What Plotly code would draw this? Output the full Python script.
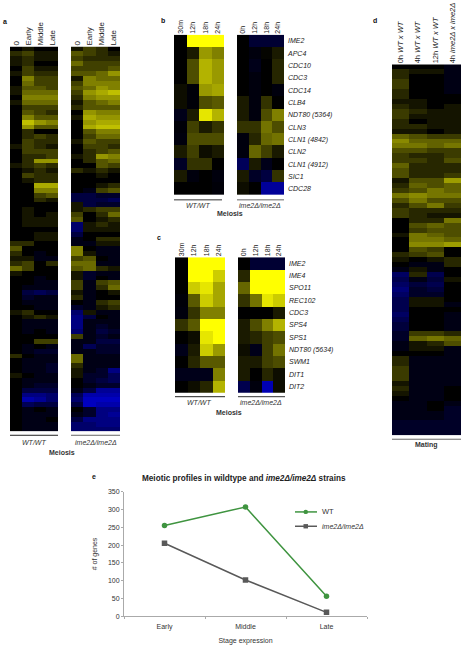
import plotly.graph_objects as go

W, H = 465, 645
FONT = "Liberation Sans"
DELTA = "ime2\u0394/ime2\u0394"

# ---------- data ----------
stage_cols = ["0", "Early", "Middle", "Late"]
wt_time_cols = ["30m", "12h", "18h", "24h"]
mut_time_cols = ["0h", "12h", "18h", "24h"]
mating_cols = ["0h <i>WT x WT</i>", "4h <i>WT x WT</i>", "12h <i>WT x WT</i>", "4h <i>ime2\u0394 x ime2\u0394</i>"]

a_wt = [
[0,1,0,0],[2,3,1,1],[1,2,1,1],[1,2,0,0],[0,3,1,1],[1,3,2,2],[0,6,3,3],[0,5,3,3],[1,4,4,3],[1,5,5,5],
[0,6,6,6],[1,5,5,5],[0,3,3,3],[0,4,3,2],[0,6,4,4],[0,9,7,6],[0,7,4,4],[0,2,0,0],[0,2,3,2],[0,3,2,2],
[1,3,2,1],[0,3,3,3],[0,2,2,3],[0,2,7,7],[1,2,3,2],[0,1,2,1],[0,3,2,2],[0,1,2,2],[0,0,8,8],[0,0,6,6],
[0,0,3,4],[0,0,2,1],[0,0,0,0],[0,1,0,0],[0,1,0,1],[0,1,1,1],[0,1,1,1],[0,0,0,0],
[0,0,1,1],[0,0,1,1],[2,2,0,0],[4,0,0,0],[2,0,-1,0],[1,1,-1,-1],[2,3,0,2],[5,3,0,0],[1,0,0,0],[0,0,-1,0],
[0,0,-1,-1],[0,-1,-1,-1],[0,-3,-4,-3],[0,-2,-1,-1],[0,-1,-1,-1],[0,0,-1,-1],[1,2,0,0],[0,1,2,1],[0,-1,-1,-1],[0,-1,-1,-1],
[0,-1,0,-1],[0,0,0,0],[0,0,3,3],[0,-1,0,-1],[0,-1,-2,-2],[2,0,-1,-1],[0,-1,-1,-1],[0,-1,-1,-2],[0,-1,-1,-2],[1,0,-1,-1],
[0,-1,-1,-1],[0,-1,-2,-2],[0,-3,-3,-3],[0,-6,-6,-5],[0,-8,-7,-5],[0,-4,-3,-3],[0,-1,0,-1],[0,-1,-1,-1],[0,-1,-1,0],[0,-1,-1,-1],[0,-1,-1,-1],
]
a_mut = [
[1,3,2,0],[4,3,2,1],[3,2,2,2],[5,3,3,3],[3,3,3,4],[4,4,5,7],[1,6,5,5],[3,6,6,6],[4,5,7,6],[3,7,8,9],
[2,6,7,7],[1,4,5,6],[2,4,4,4],[0,7,6,6],[1,8,7,7],[0,7,8,8],[0,8,9,9],[0,4,6,6],[0,3,5,5],[1,4,3,3],
[0,3,3,2],[0,2,3,4],[1,2,7,6],[0,2,4,5],[0,0,4,3],[2,1,2,1],[0,0,1,0],[0,0,0,0],[0,0,1,2],[0,-1,3,4],
[-3,-3,-2,-2],[-3,-3,-3,-4],[1,-3,-2,-2],[1,2,3,3],[3,0,2,5],[4,0,1,2],[-5,1,2,1],[-5,1,1,1],
[-3,0,0,0],[-1,0,2,2],[-1,-1,1,1],[6,0,-1,-1],[6,1,-1,-1],[3,4,0,-1],[5,5,-1,-1],[4,5,2,1],[1,-2,-1,-1],[1,-2,0,-1],
[3,-1,3,4],[3,-1,2,5],[1,-1,0,1],[2,-1,0,0],[0,-1,2,3],[-2,-1,1,2],[-5,1,-1,-1],[-6,-3,0,-1],[-6,-1,-1,-1],[-6,-1,-2,-1],
[-5,-1,-3,-2],[3,-1,-2,-1],[-1,-1,-3,-3],[-1,-4,-2,-2],[-1,-1,-2,-2],[5,-1,-1,-1],[5,-1,-1,-1],[2,-1,-1,-1],[1,-1,-2,-6],[1,-2,-2,-4],
[0,-2,-3,-4],[0,-1,-2,-2],[-1,-3,-7,-7],[-4,-8,-8,-8],[-5,-9,-9,-9],[-3,-9,-8,-8],[0,-2,-6,-6],[-1,-2,-6,-7],[-3,-6,-6,-6],[-5,-5,-6,-6],[-5,-5,-5,-5],
]
b_genes = ["IME2","APC4","CDC10","CDC3","CDC14","CLB4","NDT80 (5364)","CLN3","CLN1 (4842)","CLN2","CLN1 (4912)","SIC1","CDC28"]
b_wt = [
[0,10,10,10],[0,1,6,5],[0,3,7,6],[0,3,7,6],[0.5,-0.3,6,6.5],[0.5,-0.3,3,3.5],[-1,1,9,7],
[-0.3,2.5,1,2],[-0.5,3,3,3],[1,2.5,0.5,1],[-1.5,2,2,0],[1,-0.5,0,-0.5],[0,0,0,-0.3],
]
b_mut = [
[0,-2,-2,-2],[0,-0.5,0.2,1],[0,-1,0,1.5],[0,-0.5,0,1.5],[0,-0.5,0,-0.5],[1,-0.5,2,0],[1,-0.5,3,5],
[2,2,4.5,3],[-0.5,1.5,4,4.5],[-0.5,4,2.5,1],[-3.5,1,-1,0],[1,-1.5,-2.5,2],[0.5,0,-6,-6],
]
c_genes = ["IME2","IME4","SPO11","REC102","CDC3","SPS4","SPS1","NDT80 (5634)","SWM1","DIT1","DIT2"]
c_wt = [
[0,10,10,10],[0,10,10,8],[0,8,9,6.5],[-0.3,3.5,8,6.5],[-0.5,2,5,5],[2,3.5,10,10],[0,0.5,9,10],
[-1,1,8,6],[0,1.5,3.5,3.5],[-1,-1,-1,5],[0,0.5,1.5,7],
]
c_mut = [
[0,-2,-2,-2],[1.5,10,10,10],[4,10,10,10],[2,4.5,9,8],[0,0,0,1],[1,3,5,7],[1,1.5,2.5,3],
[0.5,-1,2.5,4.5],[1,1,2.5,3],[1,0,1.5,0.5],[-3,-0.5,-7,0.5],
]
d_mating = [
[0,0,0,-1],[2,1,1,-1],[2,0,0,-1],[3,0,0,-1],[3,0,0,-1],[2,0,0,-1],[2,0,0,0],[1,1,0,0],[2,1,0,1],[3,2,1,1],
[3,1,1,1],[2,0,1,1],[2,2,1,1],[1,1,0,1],[5,4,3,3],[7,5,5,5],[6,6,5,6],[4,4,3,3],[3,2,2,3],[3,3,2,4],
[5,2,2,2],[4,2,2,2],[4,2,2,3],[1,4,4,8],[2,5,4,5],[3,4,6,5],[6,7,6,6],[4,6,4,4],[2,4,6,3],[3,2,2,2],
[3,2,1,1],[0,2,2,6],[0,4,5,4],[0,3,4,4],
[1,6,5,4],[0,6,6,5],[0,7,7,8],[0,4,3,0],[2,3,4,0],[1,0,1,2],[0,-1,-1,2],[-1,1,-1,0],[-5,2,-4,0],[-4,-1,-3,1],
[-5,-3,-4,0],[-6,-2,-3,0],[-5,-2,-2,0],[-4,1,1,0],[-4,1,1,-1],[-4,0,0,0],[-5,0,0,-1],[-4,0,0,-1],[-3,0,0,-1],[-3,0,0,-1],
[-2,3,3,2],[-2,5,6,5],[-1,1,2,4],[-1,1,1,-1],[0,0,0,-1],[2,-1,-1,-1],[2,-1,-1,-1],[3,-1,-1,-1],[3,-1,-1,-1],[3,-1,-1,-1],
[1,-1,-1,-1],[2,-1,-1,0],[1,-1,-1,0],[0,-1,-1,0],[-1,-1,0,-1],[-1,-1,0,-2],[-1,-1,-1,-2],[-1,-1,-1,-2],[-2,-2,-2,-2],[-2,-2,-2,-2],[-2,-2,-2,-2],
]
stages = ["Early", "Middle", "Late"]
genes_wt = [255, 307, 56]
genes_mut = [205, 102, 11]

# ---------- helpers ----------
SCALE = [[0, "rgb(0,0,255)"], [0.5, "rgb(0,0,0)"], [1, "rgb(255,255,0)"]]
GREEN, GREY = "#3f9440", "#595959"
fig = go.Figure()
layout = {}
shapes = []
annots = []

def px_x(x): return x / W
def px_y(y): return 1 - y / H

def text(x, y, s, size=7, color="#222", xanchor="center"):
    annots.append(dict(x=px_x(x), y=px_y(y), xref="paper", yref="paper", text=s, showarrow=False,
                       xanchor=xanchor, yanchor="middle", font=dict(size=size, color=color, family=FONT)))

def underline(x0, x1, y, color="#333"):
    shapes.append(dict(type="line", xref="paper", yref="paper", x0=px_x(x0), x1=px_x(x1),
                       y0=px_y(y), y1=px_y(y), line=dict(color=color, width=1)))

n_axes = [1]
def heat(box, z, cols, rows=None, colsize=7, rowsize=7, zlim=10):
    x0, x1, y0, y1 = box
    n_axes[0] += 1
    i = n_axes[0]
    fig.add_trace(go.Heatmap(z=z, x=list(range(len(cols))), y=list(range(len(z))),
                             zmin=-zlim, zmax=zlim, colorscale=SCALE, showscale=False,
                             xaxis=f"x{i}", yaxis=f"y{i}", hoverinfo="skip"))
    layout[f"xaxis{i}"] = dict(domain=[px_x(x0), px_x(x1)], anchor=f"y{i}", side="top",
                               range=[-0.5, len(cols) - 0.5], tickmode="array",
                               tickvals=list(range(len(cols))), ticktext=cols, tickangle=-90,
                               ticks="", showgrid=False, zeroline=False, showline=False,
                               tickfont=dict(size=colsize, family=FONT, color="#222"))
    yax = dict(domain=[px_y(y1), px_y(y0)], anchor=f"x{i}", range=[len(z) - 0.5, -0.5],
               showgrid=False, zeroline=False, showline=False, ticks="")
    if rows:
        yax.update(side="right", tickmode="array", tickvals=list(range(len(rows))),
                   ticktext=[f"<i>{r}</i>" for r in rows], ticklabelstandoff=3,
                   tickfont=dict(size=rowsize, family=FONT, color="#222"))
    else:
        yax.update(showticklabels=False)
    layout[f"yaxis{i}"] = yax

# ---------- heatmaps ----------
heat((10, 58, 43, 432), a_wt, stage_cols, colsize=8, zlim=12)
heat((71, 120, 43, 432), a_mut, stage_cols, colsize=8, zlim=12)
heat((174, 224, 31, 193), b_wt, wt_time_cols)
heat((237, 284, 31, 193), b_mut, mut_time_cols, b_genes)
heat((175, 225, 256, 393), c_wt, wt_time_cols)
heat((238, 285, 256, 393), c_mut, mut_time_cols, c_genes)
heat((392, 461, 61, 436), d_mating, mating_cols, colsize=7.5, zlim=13)

# ---------- line chart ----------
fig.add_trace(go.Scatter(x=stages, y=genes_wt, name="WT", mode="lines+markers",
                         line=dict(color=GREEN, width=1.5),
                         marker=dict(symbol="circle", size=5.5, color=GREEN)))
fig.add_trace(go.Scatter(x=stages, y=genes_mut, name=f"<i>{DELTA}</i>", mode="lines+markers",
                         line=dict(color=GREY, width=1.5),
                         marker=dict(symbol="square", size=5.5, color=GREY)))
layout["xaxis"] = dict(domain=[px_x(124), px_x(367)], anchor="y", type="category",
                       range=[-0.5, 2.5], tickson="boundaries", ticks="outside", ticklen=2,
                       tickcolor="#aaa", showline=True, linecolor="#aaa", linewidth=1, showgrid=False,
                       zeroline=False, ticklabelstandoff=3,
                       tickfont=dict(size=7, family=FONT, color="#333"),
                       title=dict(text="Stage expression", standoff=8,
                                  font=dict(size=7, family=FONT, color="#333")))
layout["yaxis"] = dict(domain=[px_y(619), px_y(493)], anchor="x", range=[0, 350], dtick=50,
                       ticks="outside", ticklen=2, tickcolor="#aaa", showline=True, linecolor="#aaa",
                       linewidth=1, showgrid=False, zeroline=False,
                       tickfont=dict(size=7, family=FONT, color="#333"),
                       title=dict(text="# of genes", standoff=9,
                                  font=dict(size=7, family=FONT, color="#333")))

# hand-placed legend keys, matching the reference's short lines and tight spacing
for y, col, sym in [(513.5, GREEN, "circle"), (528, GREY, "rect")]:
    shapes.append(dict(type="line", xref="paper", yref="paper", x0=px_x(295), x1=px_x(317),
                       y0=px_y(y), y1=px_y(y), line=dict(color=col, width=1.5)))
    shapes.append(dict(type=sym, xref="paper", yref="paper", x0=px_x(303.5), x1=px_x(308),
                       y0=px_y(y - 2.2), y1=px_y(y + 2.2), fillcolor=col, line=dict(width=0)))
text(320, 513, "WT", size=7.5, color="#333", xanchor="left")
text(320, 528, f"<i>{DELTA}</i>", size=7, color="#333", xanchor="left")

# ---------- annotation text ----------
for x, y, s in [(5, 18, "a"), (163, 17, "b"), (159, 236, "c"), (375, 17, "d"), (94, 478, "e")]:
    text(x, y, f"<b>{s}</b>", size=7, color="#111")

for x0, x1, y, col in [(10, 58, 436, "#222"), (71, 120, 436, "#666"), (174, 222, 198, "#333"),
                       (237, 284, 198, "#666"), (175, 225, 397, "#222"), (238, 285, 397, "#333"),
                       (392, 461, 440, "#666")]:
    underline(x0, x1, y, col)

for x, y, s in [(34, 443, "WT/WT"), (96, 443, DELTA), (198, 204, "WT/WT"), (260, 204, DELTA),
                (199, 403, "WT/WT"), (261, 403, DELTA)]:
    text(x, y, f"<i>{s}</i>", size=7, color="#333")

for x, y, s in [(62, 453, "Meiosis"), (230, 212, "Meiosis"), (229, 413, "Meiosis"), (426, 446, "Mating")]:
    text(x, y, f"<b>{s}</b>", size=7, color="#333")

text(244, 480, f"<b>Meiotic profiles in wildtype and <i>{DELTA}</i> strains</b>", size=8.2, color="#222")

layout.update(
    width=W, height=H, margin=dict(l=0, r=0, t=0, b=0), plot_bgcolor="white", paper_bgcolor="white",
    shapes=shapes, annotations=annots, showlegend=False,
    font=dict(family=FONT),
)
fig.update_layout(**layout)
fig.write_html("out.html", config={"displayModeBar": False},
               post_script="document.body.style.margin='0';")
